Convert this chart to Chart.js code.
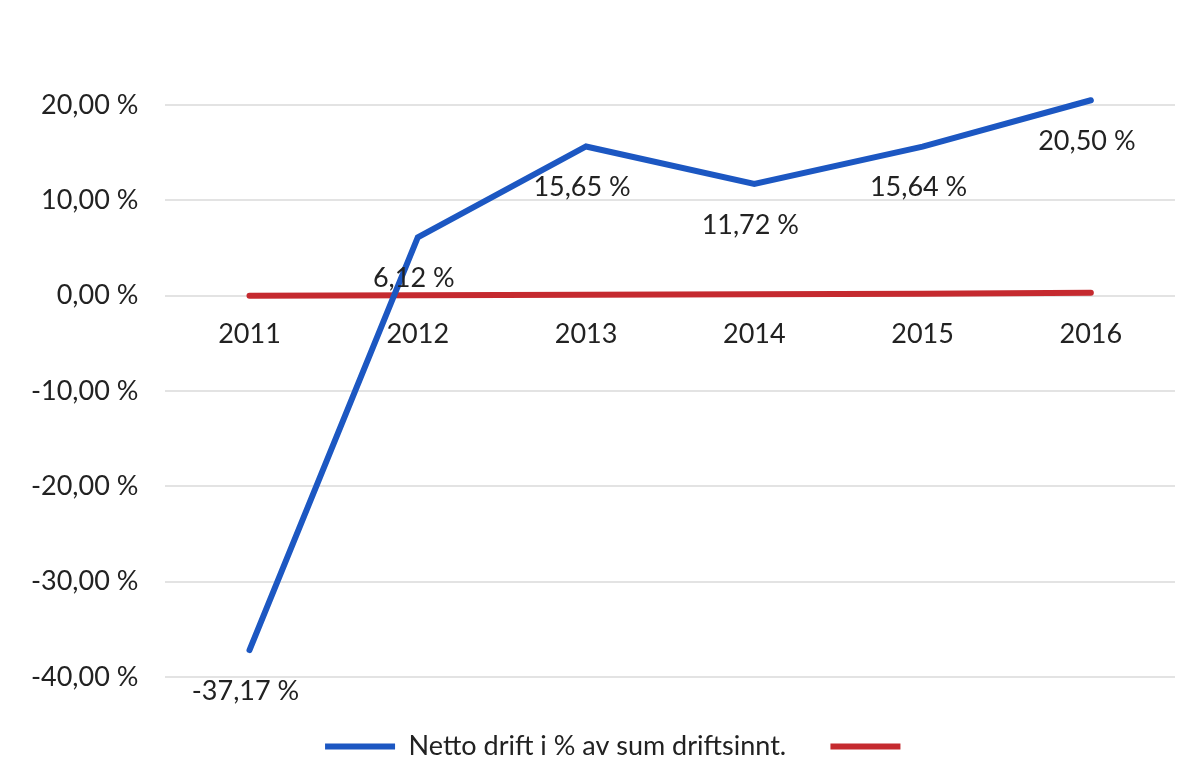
<!DOCTYPE html>
<html>
<head>
<meta charset="utf-8">
<script src="https://cdn.jsdelivr.net/npm/chart.js@4.4.1/dist/chart.umd.min.js"></script>
<style>
  html, body { margin: 0; padding: 0; background: #fff; }
  #wrap { width: 1198px; height: 782px; position: relative; }
</style>
</head>
<body>
<div id="wrap"><canvas id="graph-display"></canvas></div>
<script>
const years = ['2011', '2012', '2013', '2014', '2015', '2016'];
const nettoDrift = [-37.17, 6.12, 15.65, 11.72, 15.64, 20.50];
const redSeries = [0.0, 0.05, 0.1, 0.15, 0.2, 0.3];
const yTicks = [-40, -30, -20, -10, 0, 10, 20];

const fontName = 'Lato';
const fontSize = 27;
const textColour = '#222';

const formatPct = (v) => v.toFixed(2).replace('.', ',') + ' %';

// labels under each point of the blue line
const pointLabels = {
    id: 'pointLabels',
    afterDatasetsDraw(chart) {
        const ctx = chart.ctx;
        const meta = chart.getDatasetMeta(0);
        ctx.save();
        ctx.font = `${fontSize}px ${fontName}`;
        ctx.fillStyle = textColour;
        ctx.textAlign = 'center';
        ctx.textBaseline = 'middle';
        meta.data.forEach((pt, i) => {
            ctx.fillText(formatPct(nettoDrift[i]), pt.x - 4, pt.y + 41);
        });
        ctx.restore();
    }
};

// the legend sits a bit right of centre in the original
const legendNudge = {
    id: 'legendNudge',
    afterLayout(chart) {
        chart.legend.left += 30;
        chart.legend.right += 30;
    }
};

const graphElement = document.getElementById('graph-display');

new Chart(graphElement, {
    type: 'line',
    data: {
        labels: years,
        datasets: [
            {
                label: 'Netto drift i % av sum driftsinnt.',
                data: nettoDrift,
                borderColor: '#1c57c2',
                backgroundColor: '#1c57c2',
                borderWidth: 6,
                borderCapStyle: 'round',
                pointRadius: 0,
                tension: 0,
                clip: false
            },
            {
                label: '',
                data: redSeries,
                borderColor: '#c52a2f',
                backgroundColor: '#c52a2f',
                borderWidth: 6,
                borderCapStyle: 'round',
                pointRadius: 0,
                tension: 0,
                clip: false
            }
        ]
    },
    options: {
        responsive: true,
        maintainAspectRatio: false,
        animation: false,
        layout: {
            padding: { top: 105, left: 4, right: 23, bottom: 12 }
        },
        plugins: {
            tooltip: { enabled: false },
            legend: {
                position: 'bottom',
                title: {
                    display: true,
                    text: ' ',
                    font: { size: 10 },
                    padding: { top: 10, bottom: 10 }
                },
                labels: {
                    boxWidth: 70,
                    boxHeight: 6,
                    padding: 24,
                    color: textColour,
                    font: { family: fontName, size: fontSize },
                    // trailing em space widens the gap before the red item
                    generateLabels: (chart) => chart.data.datasets.map((ds, i) => ({
                        text: ds.label ? ds.label + '\u2003' : '',
                        fillStyle: ds.borderColor,
                        strokeStyle: ds.borderColor,
                        lineWidth: 0,
                        fontColor: textColour,
                        datasetIndex: i
                    }))
                }
            }
        },
        scales: {
            x: {
                type: 'category',
                position: { y: 0 },
                offset: true,
                grid: { display: false, drawTicks: false },
                border: { display: false },
                ticks: {
                    color: textColour,
                    padding: 22,
                    font: { family: fontName, size: fontSize }
                }
            },
            y: {
                min: -40,
                max: 20,
                afterBuildTicks: (axis) => {
                    axis.ticks = yTicks.map(v => ({ value: v }));
                },
                grid: { color: '#e3e3e3', lineWidth: 2, drawTicks: false },
                border: { display: false },
                ticks: {
                    color: textColour,
                    padding: 27,
                    font: { family: fontName, size: fontSize },
                    callback: (v) => formatPct(v)
                }
            }
        }
    },
    plugins: [pointLabels, legendNudge]
});
</script>
</body>
</html>
